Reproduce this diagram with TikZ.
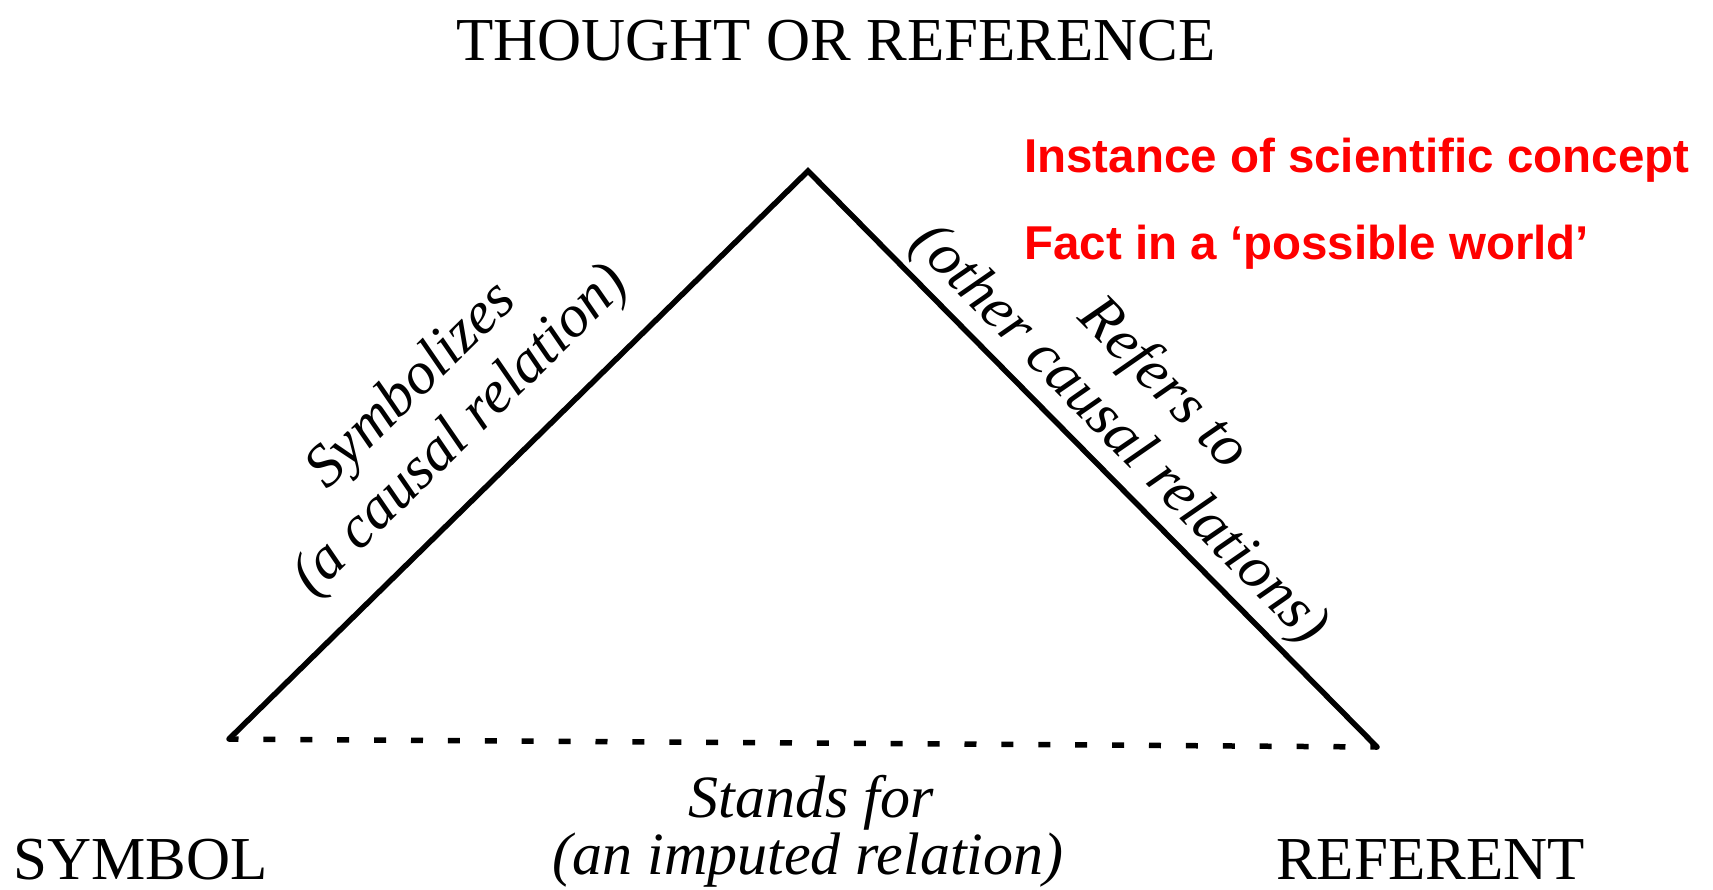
\documentclass[tikz,border=0pt]{standalone}
\usepackage{fontspec}
\setmainfont{Liberation Serif}
\newfontfamily\notefont{Liberation Sans}
\usetikzlibrary{positioning,calc}
\definecolor{RedNote}{RGB}{255,0,0}
\definecolor{InkBlack}{RGB}{0,0,0}
\tikzset{
  cornerlbl/.style={inner sep=0pt, font=\fontsize{61}{70}\selectfont},
  sidelbl/.style={inner sep=0pt, sloped, font=\fontsize{60}{68}\selectfont\itshape},
  baselbl/.style={inner sep=0pt, anchor=base, font=\fontsize{60}{68}\selectfont\itshape},
  sideline/.style={line width=5.5pt, InkBlack, line cap=round, line join=miter},
  imputed/.style={line width=5.5pt, InkBlack, dash pattern=on 12pt off 24.9pt, dash phase=2.5pt},
  notebox/.style={inner sep=0pt, anchor=base west, text=RedNote,
    font=\notefont\bfseries\fontsize{47.5}{56}\selectfont},
}
\begin{document}
\begin{tikzpicture}[x=1pt, y=-1pt]
  \useasboundingbox (0,0) rectangle (1713,889);
  % vertices of the triangle
  \coordinate (apex) at (808,171);
  \coordinate (symv) at (229,739);
  \coordinate (refv) at (1377,747);
  % corner labels
  \node[cornerlbl, anchor=base] (thought) at (836,60) {THOUGHT OR REFERENCE};
  \node[cornerlbl, anchor=base west] (symbol) at (13,879) {SYMBOL};
  \node[cornerlbl, anchor=base west] (referent) at (1276,879) {REFERENT};
  % red notes
  \node[notebox] (instance) at (1024,172) {Instance of scientific concept};
  \node[notebox] (fact) at (1024,259) {Fact in a ‘possible world’};
  % sides
  \draw[imputed] (symv) -- (refv);
  \draw[sideline] (symv)
    -- node[sidelbl, pos=.47, yshift=56pt] (causal) {(a causal relation)}
       node[sidelbl, pos=.466, yshift=123pt] (symbolizes) {Symbolizes}
    (apex)
    -- node[sidelbl, pos=.502, yshift=35pt] (othercausal) {(other causal relations)}
       node[sidelbl, pos=.496, yshift=102pt] (refersto) {Refers to}
    (refv);
  \node[baselbl] (standsfor) at (811,817) {Stands for};
  \node[baselbl] (imputedrel) at (808,874) {(an imputed relation)};
\end{tikzpicture}
\end{document}
